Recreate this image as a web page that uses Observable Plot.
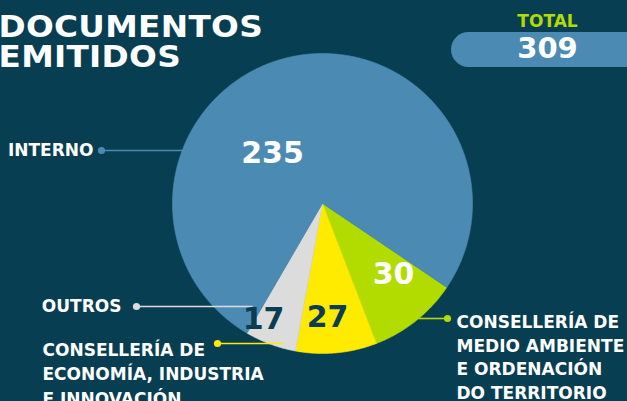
<!DOCTYPE html>
<html><head><meta charset="utf-8">
<script src="https://cdn.jsdelivr.net/npm/d3@7"></script>
<script src="https://cdn.jsdelivr.net/npm/@observablehq/plot@0.6"></script>
<style>
html,body{margin:0;padding:0;background:#083e52;width:627px;height:401px;overflow:hidden}
</style>
</head><body>
<div id="chart"></div>
<script>
// ---- data ----
const categories = ["MEDIO AMBIENTE", "ECONOMÍA", "OUTROS", "INTERNO"];
const values = [30, 27, 17, 235];
const colors = ["#b2dc00", "#ffeb00", "#dcdcdc", "#4b8bb3"];
const categoryLabels = [
  "CONSELLERÍA DE\nMEDIO AMBIENTE\nE ORDENACIÓN\nDO TERRITORIO",
  "CONSELLERÍA DE\nECONOMÍA, INDUSTRIA\nE INNOVACIÓN",
  "OUTROS",
  "INTERNO"
];
const valueTextColors = ["#ffffff", "#0a3d52", "#0a3d52", "#ffffff"];
const titleText = "DOCUMENTOS\nEMITIDOS";
const totalLabel = "TOTAL";
const total = d3.sum(values);

// ---- layout ----
const W = 627, H = 401, cx = 322, cy = 203, R = 150;
const bg = "#083e52";
const P = (px, py) => [(px - cx) / R, (cy - py) / R];
const startDeg = 124;
const a0 = startDeg * Math.PI / 180;
const arcs = d3.pie().sort(null).startAngle(a0).endAngle(a0 + 2 * Math.PI)(values);

const slicePts = [];
arcs.forEach((a, i) => {
  slicePts.push({cat: categories[i], x: 0, y: 0});
  const n = Math.max(2, Math.ceil((a.endAngle - a.startAngle) / (Math.PI / 360)));
  for (let j = 0; j <= n; j++) {
    const t = a.startAngle + (a.endAngle - a.startAngle) * j / n;
    slicePts.push({cat: categories[i], x: Math.sin(t), y: Math.cos(t)});
  }
  slicePts.push({cat: categories[i], x: 0, y: 0});
});

// label layout (pixel anchors)
const valuePos = [[393, 274], [327, 317], [263, 319], [272, 153]];
const leader = [
  {from: [418, 318], dot: [447, 318], text: [456, 311], anchor: "start", lineAnchor: "top", lh: 1.38},
  {from: [283, 343], dot: [217, 343], text: [42, 338], anchor: "start", lineAnchor: "top", lh: 1.44},
  {from: [252, 306], dot: [136, 306], text: [121, 306], anchor: "end", lineAnchor: "middle", lh: 1},
  {from: [184, 150], dot: [101, 150], text: [93, 150], anchor: "end", lineAnchor: "middle", lh: 1}
];
const leaderData = categories.map((c, i) => ({
  cat: c, label: categoryLabels[i],
  fx: P(...leader[i].from)[0], fy: P(...leader[i].from)[1],
  dx: P(...leader[i].dot)[0], dy: P(...leader[i].dot)[1],
  tx: P(...leader[i].text)[0], ty: P(...leader[i].text)[1],
  anchor: leader[i].anchor, lineAnchor: leader[i].lineAnchor, lh: leader[i].lh
}));
const valueData = categories.map((c, i) => ({
  cat: c, v: values[i], color: valueTextColors[i],
  x: P(...valuePos[i])[0], y: P(...valuePos[i])[1]
}));

const color = {domain: categories, range: colors};

const textMarks = leaderData.map(d => Plot.text([d], {
  x: "tx", y: "ty", text: "label", fill: "#ffffff",
  textAnchor: d.anchor, lineAnchor: d.lineAnchor, lineHeight: d.lh,
  fontSize: 17, fontWeight: "bold"
}));

const valueMarks = valueData.map(d => Plot.text([d], {
  x: "x", y: "y", text: d => String(d.v), fill: d.color,
  fontSize: 30, fontWeight: "bold", lineAnchor: "middle"
}));

const pill = {x1: P(451, 0)[0], x2: P(720, 0)[0], y1: P(0, 32)[1], y2: P(0, 67)[1]};

const chart = Plot.plot({
  width: W, height: H,
  margin: 0,
  x: {domain: [(0 - cx) / R, (W - cx) / R], range: [0, W], axis: null},
  y: {domain: [(cy - H) / R, cy / R], range: [H, 0], axis: null},
  color,
  style: {background: bg, fontFamily: "'DejaVu Sans', sans-serif", overflow: "hidden"},
  marks: [
    Plot.line(slicePts, {x: "x", y: "y", z: "cat", fill: "cat", stroke: "cat", strokeWidth: 0.6, curve: "linear"}),
    Plot.link(leaderData, {x1: "fx", y1: "fy", x2: "dx", y2: "dy", stroke: "cat", strokeWidth: 1.6}),
    Plot.dot(leaderData, {x: "dx", y: "dy", fill: "cat", r: 3.6}),
    ...textMarks,
    ...valueMarks,
    Plot.text([titleText], {x: () => P(-2, 0)[0], y: () => P(0, 15)[1], text: d => d, fill: "#ffffff",
      textAnchor: "start", lineAnchor: "top", lineHeight: 1.0, fontSize: 30, fontWeight: "bold"}),
    Plot.rect([pill], {x1: "x1", x2: "x2", y1: "y1", y2: "y2", fill: colors[3], rx: 17.5}),
    Plot.text([totalLabel], {x: () => P(547, 0)[0], y: () => P(0, 14)[1], text: d => d, fill: "#b2dc00",
      lineAnchor: "top", fontSize: 17, fontWeight: "bold"}),
    Plot.text([total], {x: () => P(547, 0)[0], y: () => P(0, 37)[1], text: d => String(d), fill: "#ffffff",
      lineAnchor: "top", fontSize: 29, fontWeight: "bold"})
  ]
});
chart.querySelectorAll("text").forEach(t => {
  if (t.textContent.startsWith("DOCUMENTOS")) {
    const tr = t.getAttribute("transform") || "";
    t.setAttribute("transform", tr + " scale(1.09,1)");
    t.style.letterSpacing = "0.3px";
  }
});
document.getElementById("chart").appendChild(chart);
</script>
</body></html>
